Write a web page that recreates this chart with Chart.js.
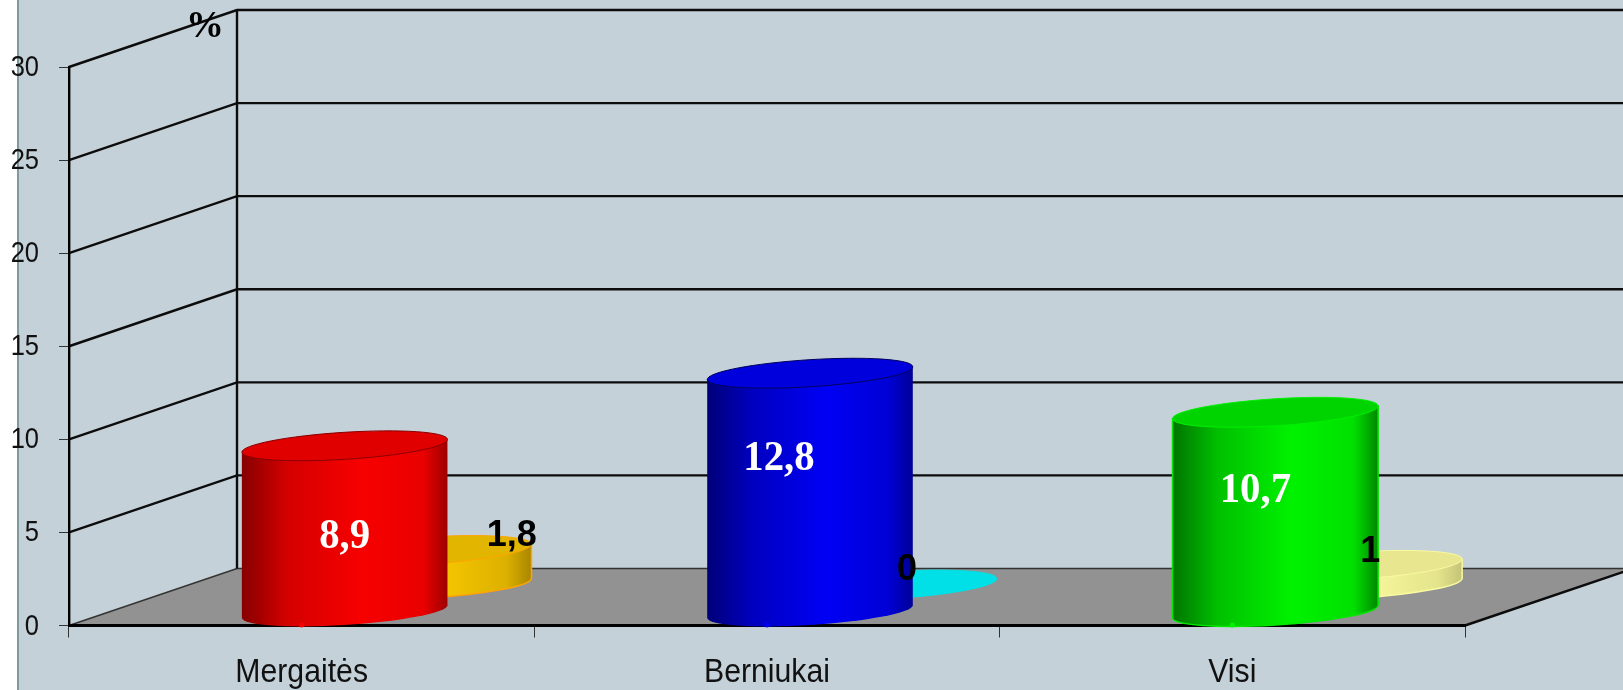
<!DOCTYPE html>
<html>
<head>
<meta charset="utf-8">
<script src="https://cdn.jsdelivr.net/npm/chart.js@4/dist/chart.umd.min.js"></script>
<style>
  html, body { margin: 0; padding: 0; background: #fff; }
  canvas { display: block; }
</style>
</head>
<body>
<canvas id="chart-cylinders" width="1623" height="690"></canvas>
<script>
const categories = ['Mergaitės', 'Berniukai', 'Visi'];
const frontValues = [8.9, 12.8, 10.7];
const backValues = [1.8, 0, 1];
const yTicks = [0, 5, 10, 15, 20, 25, 30];

const frontColors = [
  { stops: ['#860000', '#d40000', '#f70000', '#ea0000', '#9e0000'], top: '#e00000', edge: '#8a0000' },
  { stops: ['#000078', '#0000c0', '#0000f5', '#0000d6', '#000098'], top: '#0000dc', edge: '#000060' },
  { stops: ['#007400', '#00c000', '#00f200', '#00e000', '#008800'], top: '#00d400', edge: '#00f000', bodyEdge: '#00e800' },
];
const backColors = [
  { stops: ['#f5c500', '#f5c500', '#f5c500', '#dcb000', '#a88600'], top: '#e2b500', edge: '#ffa500', bodyEdge: '#ffa500' },
  { stops: ['#00e0e6', '#00e0e6', '#00e0e6', '#00e0e6', '#00e0e6'], top: '#00e0e6', edge: '#00e0e6' },
  { stops: ['#f5f59a', '#f5f59a', '#f5f59a', '#e4e48c', '#c4c478'], top: '#e8e68e', edge: '#fafaa0', bodyEdge: '#fafaa0' },
];

// wall and cylinder geometry of the fake 3d box
const DEPTH_X = 168;
const DEPTH_Y = 57;
const FRONT_SHIFT = 43;
const BACK_SHIFT = 127;
const BASE_LIFT = 13.5;
const BACK_LIFT = 40.5;
const RADIUS_X = 103;
const RADIUS_Y = 13.5;
const TILT = -3.6 * Math.PI / 180;

// label nudges from the top of each cylinder
const frontLabelShift = [[0, 102], [-31, 97], [-20, 90]];
const backLabelShift = [[83, -5], [13, -5], [11, -4]];

function drawCylinder(ctx, cx, topY, baseY, colors) {
  const rightT = Math.atan2(-RADIUS_Y * Math.sin(TILT), RADIUS_X * Math.cos(TILT));
  const ext = RADIUS_X * Math.cos(rightT) * Math.cos(TILT) - RADIUS_Y * Math.sin(rightT) * Math.sin(TILT);
  const rise = RADIUS_X * Math.cos(rightT) * Math.sin(TILT) + RADIUS_Y * Math.sin(rightT) * Math.cos(TILT);

  const grad = ctx.createLinearGradient(cx - ext, 0, cx + ext, 0);
  [0, 0.22, 0.58, 0.88, 1].forEach((p, i) => grad.addColorStop(p, colors.stops[i]));

  ctx.beginPath();
  ctx.moveTo(cx - ext, topY - rise);
  ctx.lineTo(cx - ext, baseY - rise);
  ctx.ellipse(cx, baseY, RADIUS_X, RADIUS_Y, TILT, rightT + Math.PI, rightT, true);
  ctx.lineTo(cx + ext, topY + rise);
  ctx.closePath();
  ctx.fillStyle = grad;
  ctx.fill();
  ctx.lineWidth = 1.5;
  if (colors.bodyEdge && baseY - topY > 0) {
    ctx.strokeStyle = colors.bodyEdge;
    ctx.stroke();
  }

  ctx.beginPath();
  ctx.ellipse(cx, topY, RADIUS_X, RADIUS_Y, TILT, 0, Math.PI * 2);
  ctx.fillStyle = colors.top;
  ctx.fill();
  ctx.strokeStyle = colors.edge;
  ctx.lineWidth = 1;
  ctx.stroke();
}

// the reference text is squeezed sideways, chart.js ticks can't do that
function squeezedText(ctx, text, x, y, sx, sy = 1) {
  ctx.save();
  ctx.translate(x, y);
  ctx.scale(sx, sy);
  ctx.fillText(text, 0, 0);
  ctx.restore();
}

const boxPlugin = {
  id: 'box3d',
  beforeDraw(chart) {
    const { ctx, width, height, scales: { x, y } } = chart;
    const left = x.left, right = x.right, zero = y.getPixelForValue(0);
    ctx.save();
    ctx.fillStyle = '#ffffff';
    ctx.fillRect(0, 0, width, height);
    ctx.fillStyle = '#c5d1d8';
    ctx.fillRect(18, 0, width - 18, height);
    ctx.fillStyle = '#7f9a9e';
    ctx.fillRect(17, 0, 2, height);

    // floor
    ctx.beginPath();
    ctx.moveTo(left, zero);
    ctx.lineTo(left + DEPTH_X, zero - DEPTH_Y);
    ctx.lineTo(right + DEPTH_X, zero - DEPTH_Y);
    ctx.lineTo(right, zero);
    ctx.closePath();
    ctx.fillStyle = '#929292';
    ctx.fill();

    // side wall and back wall grid
    yTicks.forEach(t => {
      const py = y.getPixelForValue(t);
      ctx.strokeStyle = t === 0 ? '#333' : '#0c0c0c';
      ctx.lineWidth = t === 0 ? 1.6 : 2.4;
      ctx.beginPath();
      ctx.moveTo(left, py);
      ctx.lineTo(left + DEPTH_X, py - DEPTH_Y);
      ctx.lineTo(width, py - DEPTH_Y);
      ctx.stroke();
    });
    ctx.strokeStyle = '#0c0c0c';
    ctx.lineWidth = 2.4;
    ctx.beginPath();
    ctx.moveTo(left + DEPTH_X, y.getPixelForValue(30) - DEPTH_Y);
    ctx.lineTo(left + DEPTH_X, zero - DEPTH_Y);
    ctx.moveTo(right, zero);
    ctx.lineTo(right + DEPTH_X, zero - DEPTH_Y);
    ctx.stroke();
    ctx.restore();
  },
  afterDatasetsDraw(chart) {
    const { ctx, scales: { x, y } } = chart;
    const front = chart.getDatasetMeta(0).data;
    const back = chart.getDatasetMeta(1).data;
    ctx.save();

    back.forEach((bar, i) => {
      const cx = bar.x + BACK_SHIFT;
      drawCylinder(ctx, cx, bar.y - BACK_LIFT - (backValues[i] ? 1 : 0), bar.base - BACK_LIFT, backColors[i]);
    });
    front.forEach((bar, i) => {
      const cx = bar.x + FRONT_SHIFT;
      drawCylinder(ctx, cx, bar.y - 14, bar.base - BASE_LIFT, frontColors[i]);
      // small nub where the cylinder touches the axis
      ctx.beginPath();
      ctx.arc(bar.x, bar.base, 2.5, 0, Math.PI * 2);
      ctx.fillStyle = frontColors[i].stops[2];
      ctx.fill();
    });

    ctx.textBaseline = 'alphabetic';
    ctx.textAlign = 'center';
    ctx.fillStyle = '#ffffff';
    ctx.font = 'bold 40px "Liberation Serif"';
    front.forEach((bar, i) => {
      const [dx, dy] = frontLabelShift[i];
      squeezedText(ctx, String(frontValues[i]).replace('.', ','), bar.x + FRONT_SHIFT + dx, bar.y - 14 + dy, 1.02, 1.08);
    });
    ctx.fillStyle = '#000000';
    ctx.font = 'bold 36px "Liberation Sans"';
    back.forEach((bar, i) => {
      const [dx, dy] = backLabelShift[i];
      ctx.fillText(String(backValues[i]).replace('.', ','), bar.x + BACK_SHIFT + dx, bar.y - BACK_LIFT + dy);
    });

    ctx.font = 'bold 38px "Liberation Serif"';
    ctx.fillText('%', 205, 37);

    // tick labels
    ctx.fillStyle = '#111111';
    ctx.font = '32.5px "Liberation Sans"';
    categories.forEach((name, i) => {
      squeezedText(ctx, name, x.getPixelForValue(i), 682, 0.93);
    });
    ctx.textAlign = 'right';
    ctx.font = '30px "Liberation Sans"';
    yTicks.forEach(t => {
      squeezedText(ctx, String(t), 39, y.getPixelForValue(t) + 9, 0.85);
    });
    ctx.restore();
  },
};

new Chart(document.getElementById('chart-cylinders'), {
  type: 'bar',
  data: {
    labels: categories,
    datasets: [
      { label: 'front', data: frontValues, backgroundColor: 'transparent', grouped: false },
      { label: 'back', data: backValues, backgroundColor: 'transparent', grouped: false },
    ],
  },
  options: {
    responsive: false,
    animation: false,
    layout: { padding: { top: 67, right: 158, bottom: 0, left: 0 } },
    plugins: { legend: { display: false }, tooltip: { enabled: false } },
    scales: {
      x: {
        afterFit: s => { s.height = 64.5; },
        grid: { drawOnChartArea: false, drawTicks: true, tickLength: 12, color: '#333' },
        border: { color: '#000', width: 3 },
        ticks: { display: false },
      },
      y: {
        min: 0,
        max: 30,
        afterFit: s => { s.width = 69; },
        afterBuildTicks: s => { s.ticks = yTicks.map(v => ({ value: v })); },
        grid: { drawOnChartArea: false, drawTicks: true, tickLength: 10, color: '#333' },
        border: { color: '#000', width: 2.4 },
        ticks: { display: false },
      },
    },
  },
  plugins: [boxPlugin],
});
</script>
</body>
</html>
